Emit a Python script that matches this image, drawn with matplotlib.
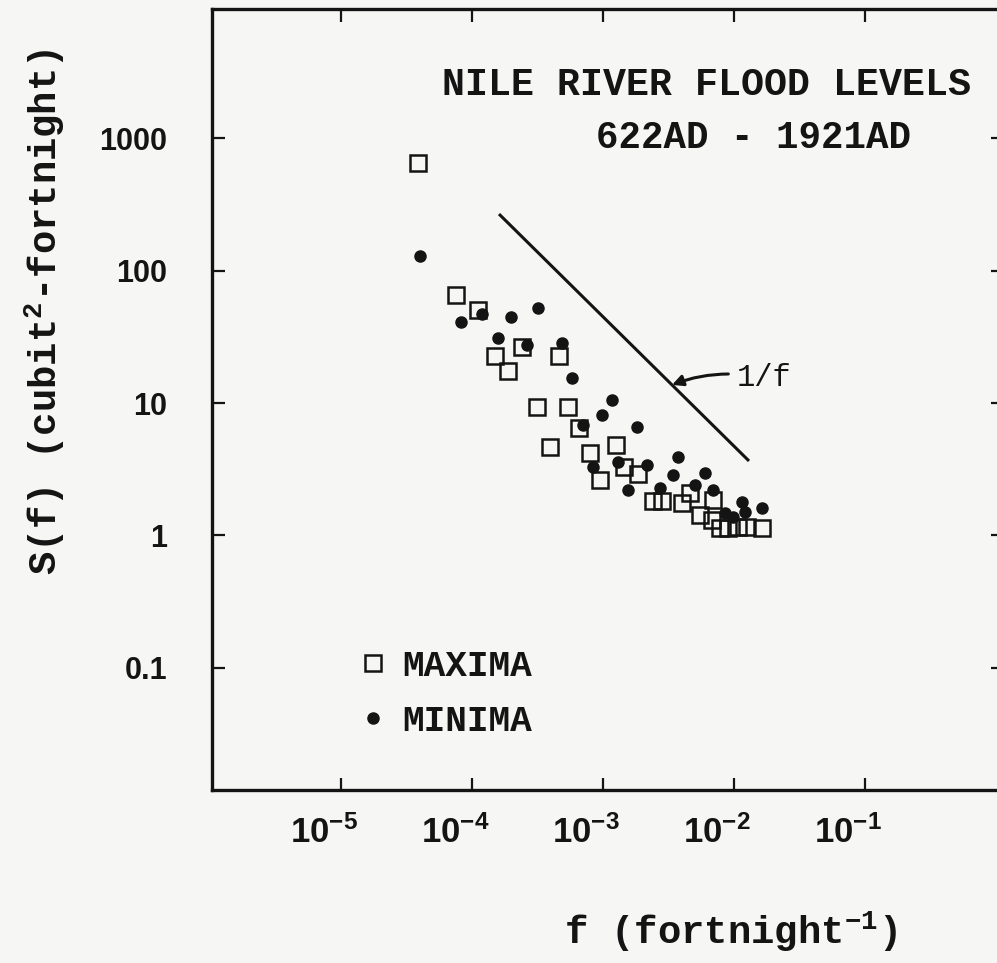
import matplotlib
matplotlib.use("Agg")
import matplotlib.pyplot as plt
import matplotlib.transforms as mtransforms

plt.rcParams['font.family'] = ['Liberation Sans', 'DejaVu Sans']
plt.rcParams['mathtext.default'] = 'regular'
MONO = ['Liberation Mono', 'DejaVu Sans Mono']

# spectra (f in fortnight^-1, S in cubit^2-fortnight)
max_f = [3.87e-5, 7.55e-5, 1.11e-4, 1.50e-4, 1.88e-4, 2.41e-4, 4.61e-4, 3.13e-4,
         5.41e-4, 3.94e-4, 6.56e-4, 7.96e-4, 1.26e-3, 9.48e-4, 1.45e-3, 1.85e-3,
         2.41e-3, 2.82e-3, 4.01e-3, 4.61e-3, 5.50e-3, 6.91e-3, 6.79e-3, 7.82e-3,
         8.99e-3, 1.07e-2, 1.26e-2, 1.64e-2]
max_s = [647, 65.3, 50.4, 22.6, 17.5, 26.5, 22.6, 9.33,
         9.33, 4.66, 6.47, 4.20, 4.82, 2.62, 3.29, 2.91,
         1.82, 1.82, 1.76, 2.09, 1.43, 1.85, 1.31, 1.14,
         1.14, 1.16, 1.16, 1.14]

min_f = [4.01e-5, 8.24e-5, 1.19e-4, 1.58e-4, 1.99e-4, 3.19e-4, 2.63e-4, 4.86e-4,
         5.80e-4, 1.17e-3, 9.82e-4, 7.03e-4, 1.82e-3, 8.39e-4, 1.30e-3, 2.17e-3,
         3.74e-3, 1.55e-3, 2.72e-3, 3.42e-3, 5.04e-3, 6.01e-3, 6.92e-3, 1.15e-2,
         1.64e-2, 8.53e-3, 9.82e-3, 1.21e-2]
min_s = [128.5, 40.8, 47.0, 31.0, 44.6, 52.1, 27.4, 28.4,
         15.5, 10.5, 8.11, 6.82, 6.59, 3.29, 3.59, 3.40,
         3.91, 2.20, 2.28, 2.86, 2.40, 2.97, 2.20, 1.79,
         1.61, 1.48, 1.38, 1.50]

# 1/f reference line end points
ref_f = [1.64e-4, 1.28e-2]
ref_s = [262, 3.72]

xticks = [1e-5, 1e-4, 1e-3, 1e-2, 1e-1]
xlabels = [r'$10^{-5}$', r'$10^{-4}$', r'$10^{-3}$', r'$10^{-2}$', r'$10^{-1}$']
yticks = [0.1, 1, 10, 100, 1000]
ylabels = ['0.1', '1', '10', '100', '1000']

ink = '#141414'
paper = '#f6f6f4'

fig = plt.figure(figsize=(9.97, 9.63), dpi=100, facecolor=paper)
ax = fig.add_axes([212/997, 1-790/963, (1003-212)/997, (790-9)/963])
ax.set_facecolor(paper)
ax.set_xscale('log')
ax.set_yscale('log')
ax.set_xlim(10**-5.985, 10**0.055)
ax.set_ylim(10**-1.921, 10**3.974)

ax.plot(max_f, max_s, ls='none', marker='s', ms=11, mfc='none', mec=ink, mew=1.8,
        label='MAXIMA')
ax.plot(min_f, min_s, ls='none', marker='o', ms=8, mfc=ink, mec=ink, label='MINIMA')
ax.plot(ref_f, ref_s, color=ink, lw=2.2)

ax.annotate('1/f', xy=(3.37e-3, 13.7), xytext=(1.05e-2, 15.5),
            fontsize=22, family=MONO, color=ink, va='center',
            arrowprops=dict(arrowstyle='-|>', color=ink, lw=2.2,
                            connectionstyle='arc3,rad=0.15', shrinkA=4, shrinkB=0,
                            mutation_scale=16))

for s in ax.spines.values():
    s.set_color(ink)
    s.set_linewidth(2.4)

ax.set_xticks(xticks)
ax.set_xticklabels(xlabels)
ax.set_yticks(yticks)
ax.set_yticklabels(ylabels)
ax.minorticks_off()
ax.tick_params(axis='x', direction='in', length=9, width=1.6, color=ink,
               top=True, labelsize=25, pad=18, labelcolor=ink)
ax.tick_params(axis='y', direction='in', length=9, width=1.6, color=ink,
               right=True, labelsize=22, pad=32, labelcolor=ink)
for lab in ax.get_xticklabels():
    lab.set_fontweight('bold')
    lab.set_transform(lab.get_transform() +
                      mtransforms.ScaledTranslation(-12/72, 0, fig.dpi_scale_trans))
for lab in ax.get_yticklabels():
    lab.set_fontweight('bold')

fig.text(706/997, 1-85/963, 'NILE RIVER FLOOD LEVELS', ha='center', va='center',
         fontsize=27.5, fontweight='bold', color=ink, family=MONO)
fig.text(753/997, 1-138/963, '622AD - 1921AD', ha='center', va='center',
         fontsize=27, fontweight='bold', color=ink, family=MONO)

fig.text(45/997, 1-312/963, r'S(f) (cubit$^{2}$-fortnight)', rotation=90,
         ha='center', va='center', fontsize=28, fontweight='bold', color=ink,
         family=MONO)
fig.text(730/997, 1-932/963, r'f (fortnight$^{-1}$)', ha='center', va='center',
         fontsize=28, fontweight='bold', color=ink, family=MONO)

leg = ax.legend(loc='upper left', bbox_to_anchor=(344/997, 1-631/963),
                bbox_transform=fig.transFigure, frameon=False, handlelength=0.6,
                handletextpad=0.5, labelspacing=0.55, borderpad=0,
                prop={'size': 26, 'weight': 'bold', 'family': MONO})
for t in leg.get_texts():
    t.set_color(ink)

fig.savefig('out.png', dpi=100, facecolor=paper)
